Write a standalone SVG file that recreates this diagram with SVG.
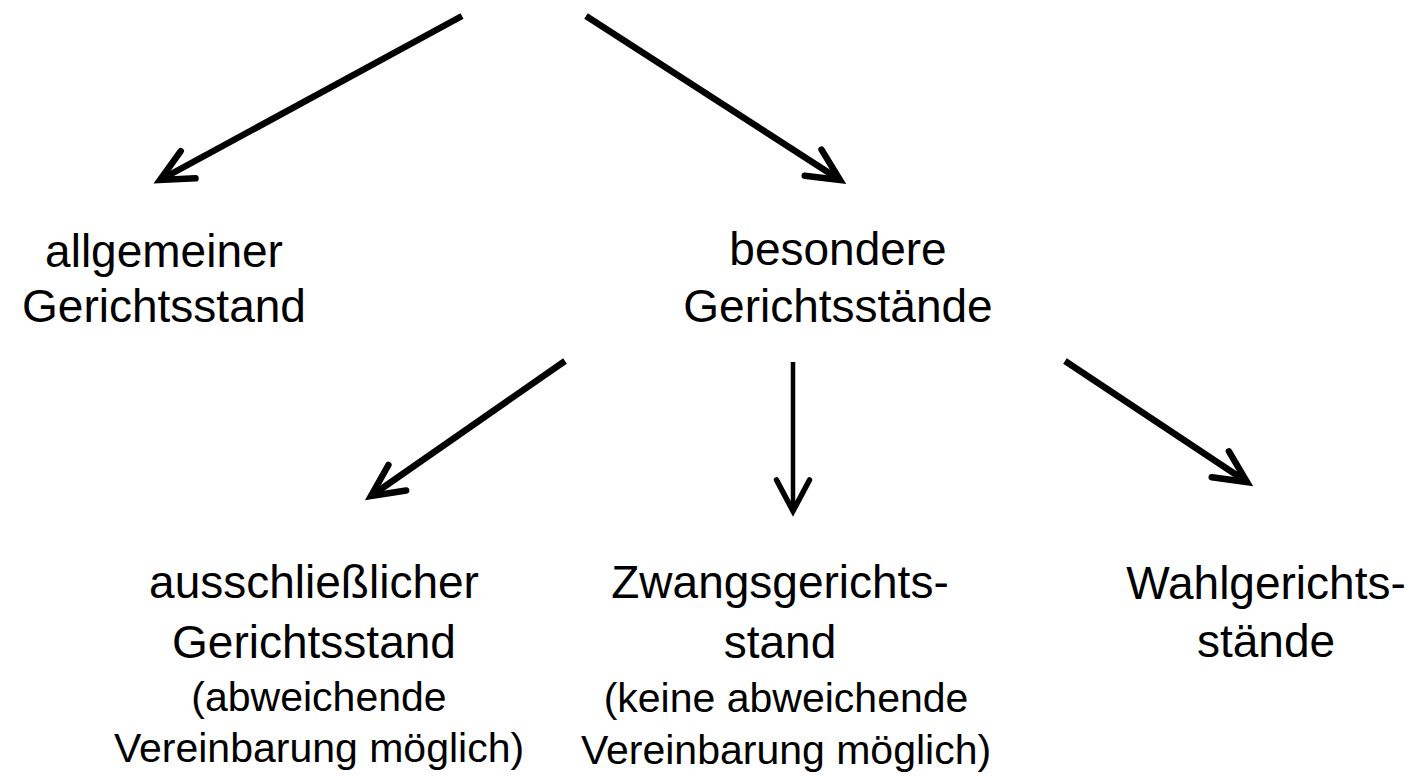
<svg xmlns="http://www.w3.org/2000/svg" width="1418" height="777" viewBox="0 0 1418 777">
<style>
  .t { font-family: "Liberation Sans", Arial, Helvetica, sans-serif; font-size: 46px; fill: #000; text-anchor: middle; }
  .s { font-family: "Liberation Sans", Arial, Helvetica, sans-serif; font-size: 41px; fill: #000; text-anchor: middle; }
  .ln { stroke: #000; stroke-width: 6.5; fill: none; }
  .lv { stroke: #000; stroke-width: 4.5; fill: none; }
</style>
<defs>
  <marker id="ah" markerUnits="userSpaceOnUse" viewBox="-45 -25 55 50" markerWidth="55" markerHeight="50" refX="0" refY="0" orient="auto" overflow="visible">
    <path d="M-32,-15.5 L0,0 L-32,15.5" fill="none" stroke="#000" stroke-width="6.5" stroke-linecap="round" stroke-linejoin="miter" stroke-miterlimit="10"/>
  </marker>
  <marker id="ahv" markerUnits="userSpaceOnUse" viewBox="-45 -25 55 50" markerWidth="55" markerHeight="50" refX="0" refY="0" orient="auto" overflow="visible">
    <path d="M-31,-16.5 L0,0 L-31,16.5" fill="none" stroke="#000" stroke-width="5.5" stroke-linecap="round" stroke-linejoin="miter" stroke-miterlimit="10"/>
  </marker>
</defs>
<g id="connectors">
  <line class="ln" x1="462" y1="16" x2="160" y2="180" marker-end="url(#ah)"/>
  <line class="ln" x1="586" y1="16" x2="840" y2="180" marker-end="url(#ah)"/>
  <line class="ln" x1="565" y1="361" x2="371" y2="496" marker-end="url(#ah)"/>
  <line class="lv" x1="793" y1="362" x2="793" y2="511" marker-end="url(#ahv)"/>
  <line class="ln" x1="1065" y1="361" x2="1247" y2="482" marker-end="url(#ah)"/>
</g>
<g id="node-allgemeiner">
  <text class="t" x="164" y="267">allgemeiner</text>
  <text class="t" x="164" y="322">Gerichtsstand</text>
</g>
<g id="node-besondere">
  <text class="t" x="838" y="265">besondere</text>
  <text class="t" x="838" y="322">Gerichtsstände</text>
</g>
<g id="node-ausschliesslicher">
  <text class="t" x="314" y="598">ausschließlicher</text>
  <text class="t" x="314" y="658">Gerichtsstand</text>
  <text class="s" x="319" y="711">(abweichende</text>
  <text class="s" x="319" y="762">Vereinbarung möglich)</text>
</g>
<g id="node-zwangs">
  <text class="t" x="780" y="598">Zwangsgerichts-</text>
  <text class="t" x="780" y="658">stand</text>
  <text class="s" x="786" y="712">(keine abweichende</text>
  <text class="s" x="786" y="764">Vereinbarung möglich)</text>
</g>
<g id="node-wahl">
  <text class="t" x="1266" y="599">Wahlgerichts-</text>
  <text class="t" x="1266" y="657">stände</text>
</g>
</svg>
